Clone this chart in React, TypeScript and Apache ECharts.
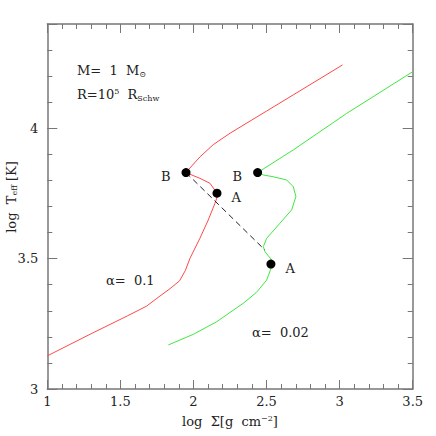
import React, { useEffect, useRef } from "react";
import * as echarts from "echarts";

// alpha = 0.1 (red) S-curve: log Sigma vs log Teff
const redX = [1.0, 1.3, 1.55, 1.68, 1.75, 1.84, 1.905, 1.945, 1.976, 2.044, 2.101, 2.147, 2.163, 2.161, 2.113, 2.044, 1.949, 2.0, 2.046, 2.135, 2.25, 2.5, 2.75, 3.02];
const redY = [3.127, 3.212, 3.281, 3.318, 3.348, 3.385, 3.415, 3.455, 3.501, 3.578, 3.648, 3.712, 3.738, 3.751, 3.789, 3.808, 3.83, 3.863, 3.891, 3.937, 3.981, 4.066, 4.151, 4.243];
// alpha = 0.02 (green) S-curve
const greenX = [1.828, 2.0, 2.159, 2.341, 2.43, 2.501, 2.535, 2.53, 2.535, 2.489, 2.478, 2.501, 2.592, 2.672, 2.701, 2.683, 2.637, 2.546, 2.478, 2.439, 2.683, 3.048, 3.5];
const greenY = [3.169, 3.21, 3.258, 3.329, 3.37, 3.418, 3.469, 3.479, 3.495, 3.527, 3.546, 3.578, 3.636, 3.687, 3.738, 3.776, 3.802, 3.814, 3.821, 3.83, 3.917, 4.057, 4.217];
// turning points
const pointNames = ["B", "A", "B", "A"];
const pointX = [1.949, 2.161, 2.439, 2.53];
const pointY = [3.83, 3.751, 3.83, 3.479];
const pointSide = ["left", "right", "left", "right"];
// dashed transition line
const dashX = [1.949, 2.489];
const dashY = [3.83, 3.533];

const xMin = 1, xMax = 3.5, yMin = 3, yMax = 4.4;

const zip = (xs: number[], ys: number[]) => xs.map((x, i) => [x, ys[i]]);
const isHalf = (v: number) => Math.abs(v * 2 - Math.round(v * 2)) < 1e-6;
const fmt = (v: number) => {
  if (!isHalf(v)) return "";
  const r = Math.round(v * 2) / 2;
  return String(r);
};

const FONT = "DejaVu Serif";
const FRAME = "#777";
const TXT = "#222";

export default function App() {
  const ref = useRef<HTMLDivElement>(null);
  useEffect(() => {
    if (!ref.current) return;
    const chart = echarts.init(ref.current, undefined, { renderer: "svg" });
    const mkX = (pos: "top" | "bottom", major: boolean, labels: boolean, name?: boolean) => ({
      type: "value",
      position: pos,
      min: xMin,
      max: xMax,
      interval: major ? 0.5 : 0.1,
      axisLine: { show: !major, onZero: false, lineStyle: { color: FRAME, width: 1.5 } },
      axisTick: { show: true, inside: true, length: major ? 9 : 5, lineStyle: { color: FRAME, width: 1 } },
      axisLabel: { show: labels, formatter: fmt, fontFamily: FONT, fontSize: 13, color: TXT, margin: 6 },
      splitLine: { show: false },
      name: name ? "{n|log  Σ[g  cm}{sup|−2}{n|]}" : "",
      nameLocation: "middle",
      nameGap: 25,
      nameMoveOverlap: false,
      nameTextStyle: {
        fontFamily: FONT,
        fontSize: 13,
        color: TXT,
        rich: {
          n: { fontFamily: FONT, fontSize: 13, color: TXT },
          sup: { fontFamily: FONT, fontSize: 8, color: TXT, padding: [0, 0, 7, 0] },
        },
      },
    });
    const mkY = (pos: "left" | "right", major: boolean, labels: boolean) => ({
      type: "value",
      position: pos,
      min: yMin,
      max: yMax,
      interval: major ? 0.5 : 0.1,
      axisLine: { show: !major, onZero: false, lineStyle: { color: FRAME, width: 1.5 } },
      axisTick: { show: true, inside: true, length: major ? 10 : 5, lineStyle: { color: FRAME, width: 1 } },
      axisLabel: { show: labels, formatter: fmt, fontFamily: FONT, fontSize: 13, color: TXT, margin: 9 },
      splitLine: { show: false },
    });
    chart.setOption({
      animation: false,
      backgroundColor: "#fff",
      grid: { left: 47.3, right: 23.3, top: 24, bottom: 47, containLabel: false, outerBoundsMode: "none" },
      xAxis: [mkX("bottom", false, true, true), mkX("bottom", true, false), mkX("top", false, false), mkX("top", true, false)],
      yAxis: [mkY("left", false, true), mkY("left", true, false), mkY("right", false, false), mkY("right", true, false)],
      series: [
        {
          type: "line",
          data: zip(redX, redY),
          showSymbol: false,
          lineStyle: { color: "#ff4848", width: 1 },
          z: 2,
        },
        {
          type: "line",
          data: zip(greenX, greenY),
          showSymbol: false,
          lineStyle: { color: "#3fe83f", width: 1 },
          z: 2,
        },
        {
          type: "line",
          data: zip(dashX, dashY),
          showSymbol: false,
          lineStyle: { color: "#222", width: 1, type: [6, 4] },
          z: 2,
        },
        {
          type: "scatter",
          symbolSize: 9,
          z: 10,
          itemStyle: { color: "#000", borderWidth: 0, opacity: 1 },
          data: pointNames.map((n, i) => ({
            value: [pointX[i], pointY[i]],
            name: n,
            label: {
              show: true,
              formatter: n,
              position: pointSide[i],
              distance: pointSide[i] === "left" ? 11 : 10,
              offset: [0, 4],
              fontFamily: FONT,
              fontSize: 13,
              color: TXT,
            },
          })),
        },
      ],
      graphic: [
        {
          type: "text",
          x: 11,
          y: 197,
          rotation: Math.PI / 2,
          style: {
            text: "{n|log  T}{sub|eff}{n| [K]}",
            align: "center",
            verticalAlign: "middle",
            rich: {
              n: { fontFamily: FONT, fontSize: 13, fill: TXT },
              sub: { fontFamily: FONT, fontSize: 8, fill: TXT, padding: [7, 0, 0, 0] },
            },
          },
        },
        {
          type: "text",
          left: 77,
          top: 64,
          style: {
            text: "{n|M=  1  M}{sub|⊙}",
            rich: {
              n: { fontFamily: FONT, fontSize: 13, fill: TXT },
              sub: { fontFamily: FONT, fontSize: 8, fill: TXT, padding: [7, 0, 0, 0] },
            },
          },
        },
        {
          type: "text",
          left: 77,
          top: 87,
          style: {
            text: "{n|R=10}{sup|5}{n|  R}{sub|Schw}",
            rich: {
              n: { fontFamily: FONT, fontSize: 13, fill: TXT },
              sup: { fontFamily: FONT, fontSize: 8, fill: TXT, padding: [0, 0, 7, 0] },
              sub: { fontFamily: FONT, fontSize: 8, fill: TXT, padding: [7, 0, 0, 0] },
            },
          },
        },
        {
          type: "text",
          left: 106,
          top: 274,
          style: { text: "α=  0.1", fontFamily: FONT, fontSize: 13, fill: TXT },
        },
        {
          type: "text",
          left: 252,
          top: 326,
          style: { text: "α=  0.02", fontFamily: FONT, fontSize: 13, fill: TXT },
        },
      ],
    });
    return () => chart.dispose();
  }, []);
  return <div ref={ref} style={{ position: "fixed", left: 0, top: 0, width: 436, height: 436 }} />;
}
